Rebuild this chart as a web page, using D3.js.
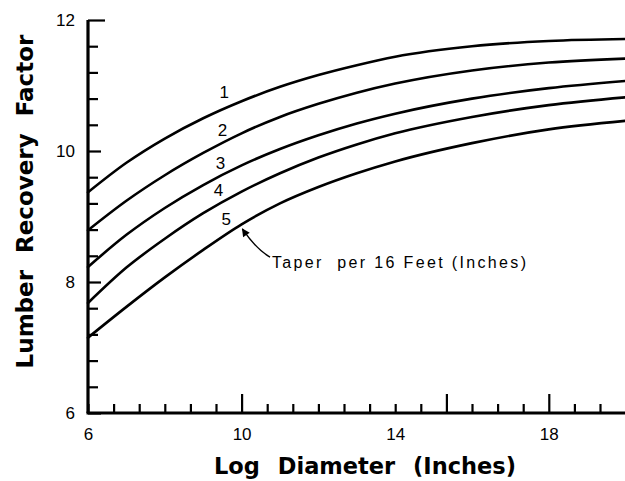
<!DOCTYPE html>
<html>
<head>
<meta charset="utf-8">
<script src="https://cdn.jsdelivr.net/npm/d3@7"></script>
<style>
  html, body { margin: 0; padding: 0; background: #fff; }
  svg { display: block; }
</style>
</head>
<body>
<svg id="chart" width="625" height="481"></svg>
<script>
// ---- data ----
const diameters = [6, 7, 8, 9, 10, 11, 12, 13, 14, 16, 18, 20];
const taper1 = [9.37, 9.82, 10.19, 10.50, 10.76, 10.98, 11.16, 11.31, 11.44, 11.60, 11.68, 11.71];
const taper2 = [8.79, 9.24, 9.63, 9.97, 10.27, 10.52, 10.72, 10.89, 11.03, 11.23, 11.35, 11.41];
const taper3 = [8.23, 8.72, 9.13, 9.48, 9.78, 10.03, 10.24, 10.42, 10.57, 10.80, 10.96, 11.07];
const taper4 = [7.68, 8.22, 8.66, 9.05, 9.38, 9.66, 9.90, 10.10, 10.27, 10.52, 10.70, 10.82];
const taper5 = [7.15, 7.62, 8.07, 8.49, 8.88, 9.20, 9.45, 9.66, 9.84, 10.12, 10.33, 10.46];
const seriesNames = ["1", "2", "3", "4", "5"];
const labelX = [9.55, 9.5, 9.45, 9.4, 9.6];
const labelY = [10.9, 10.32, 9.82, 9.4, 8.97];
const xTickLabels = [6, 10, 14, 18];
const yTickLabels = [6, 8, 10, 12];
const annotationText = "Taper  per 16 Feet (Inches)";
const arrowPoints = [[10.74, 8.38], [10.38, 8.5], [10.02, 8.81]];

const series = [taper1, taper2, taper3, taper4, taper5];

const svg = d3.select("#chart");
const x = d3.scaleLinear().domain([6, 20]).range([88, 625.6]);
const y = d3.scaleLinear().domain([6, 12]).range([413, 20]);

const numFont = "'Liberation Sans', Arial, sans-serif";
const titleFont = "'DejaVu Sans', sans-serif";

// ---- Y minor/major ticks (pointing inside) ----
const yTickVals = d3.range(0, 16).map(i => +(6 + i * 0.4).toFixed(2));
const yAxisTicks = svg.append("g").attr("transform", `translate(${x(6)},0)`)
  .call(d3.axisRight(y).tickValues(yTickVals).tickFormat("").tickSize(10));
yAxisTicks.select(".domain").remove();
yAxisTicks.selectAll(".tick line")
  .attr("stroke", "#000").attr("stroke-width", 2.2)
  .attr("x2", d => d === 12 ? 17 : (d % 2 === 0 ? 13 : 10));

// ---- X ticks (pointing up) ----
const xTickVals = d3.range(0, 21).map(i => 6 + i * 2 / 3).filter(v => v < 20);
const tallIdx = new Set([6, 14, 18]);
const xAxisTicks = svg.append("g").attr("transform", `translate(0,${y(6)})`)
  .call(d3.axisTop(x).tickValues(xTickVals).tickFormat("").tickSize(9));
xAxisTicks.select(".domain").remove();
xAxisTicks.selectAll(".tick line")
  .attr("stroke", "#000").attr("stroke-width", 2.2)
  .attr("y2", (d, i) => tallIdx.has(i) ? -19 : -9);

// ---- axis lines ----
svg.append("line").attr("x1", x(6)).attr("x2", x(6)).attr("y1", y(12)).attr("y2", y(6))
  .attr("stroke", "#000").attr("stroke-width", 3.2);
svg.append("line").attr("x1", x(6) - 1.5).attr("x2", x(20)).attr("y1", y(6)).attr("y2", y(6))
  .attr("stroke", "#000").attr("stroke-width", 3.2);

// ---- tick labels ----
const yLab = svg.append("g").attr("transform", `translate(${x(6)},0)`)
  .call(d3.axisLeft(y).tickValues(yTickLabels).tickFormat(d3.format("d")).tickSize(0).tickPadding(13));
yLab.select(".domain").remove();
yLab.selectAll("text").attr("font-family", numFont).attr("font-size", 17).attr("fill", "#000");

const xLab = svg.append("g").attr("transform", `translate(0,${y(6)})`)
  .call(d3.axisBottom(x).tickValues(xTickLabels).tickFormat(d3.format("d")).tickSize(0));
xLab.select(".domain").remove();
xLab.selectAll("text").attr("font-family", numFont).attr("font-size", 17).attr("fill", "#000")
  .attr("y", 27).attr("dy", 0);

// ---- curves ----
const line = d3.line().x((d, i) => x(diameters[i])).y(d => y(d)).curve(d3.curveMonotoneX);
svg.append("g").selectAll("path").data(series).join("path")
  .attr("d", d => line(d))
  .attr("fill", "none").attr("stroke", "#000").attr("stroke-width", 2.6)
  .attr("stroke-linecap", "round");

// ---- curve labels ----
svg.append("g").selectAll("text").data(seriesNames).join("text")
  .attr("x", (d, i) => x(labelX[i])).attr("y", (d, i) => y(labelY[i]))
  .attr("dy", "0.36em").attr("text-anchor", "middle")
  .attr("font-family", numFont).attr("font-size", 17).text(d => d);

// ---- annotation arrow ----
const defs = svg.append("defs");
defs.append("marker").attr("id", "ah").attr("viewBox", "0 0 10 10")
  .attr("refX", 9).attr("refY", 5).attr("markerWidth", 11).attr("markerHeight", 8)
  .attr("markerUnits", "userSpaceOnUse").attr("orient", "auto")
  .append("path").attr("d", "M0,0 L10,5 L0,10 Z").attr("fill", "#000");
const ap = arrowPoints.map(p => [x(p[0]), y(p[1])]);
svg.append("path")
  .attr("d", `M${ap[0][0]},${ap[0][1]} Q${ap[1][0]},${ap[1][1]} ${ap[2][0]},${ap[2][1]}`)
  .attr("fill", "none").attr("stroke", "#000").attr("stroke-width", 1.4)
  .attr("marker-end", "url(#ah)");

svg.append("text")
  .attr("x", x(10.74) + 2).attr("y", y(8.38) + 11)
  .attr("font-family", numFont).attr("font-size", 16)
  .attr("textLength", 254).attr("lengthAdjust", "spacing")
  .style("white-space", "pre")
  .text(annotationText);

// ---- axis titles ----
svg.append("text")
  .attr("transform", `translate(33,${(33 + 370) / 2}) rotate(-90)`)
  .attr("text-anchor", "middle")
  .attr("font-family", titleFont).attr("font-weight", "bold").attr("font-size", 23)
  .attr("word-spacing", 9)
  .text("Lumber Recovery Factor");

svg.append("text")
  .attr("x", 365).attr("y", 474)
  .attr("text-anchor", "middle")
  .attr("font-family", titleFont).attr("font-weight", "bold").attr("font-size", 22.5)
  .attr("word-spacing", 10)
  .text("Log Diameter (Inches)");
</script>
</body>
</html>
